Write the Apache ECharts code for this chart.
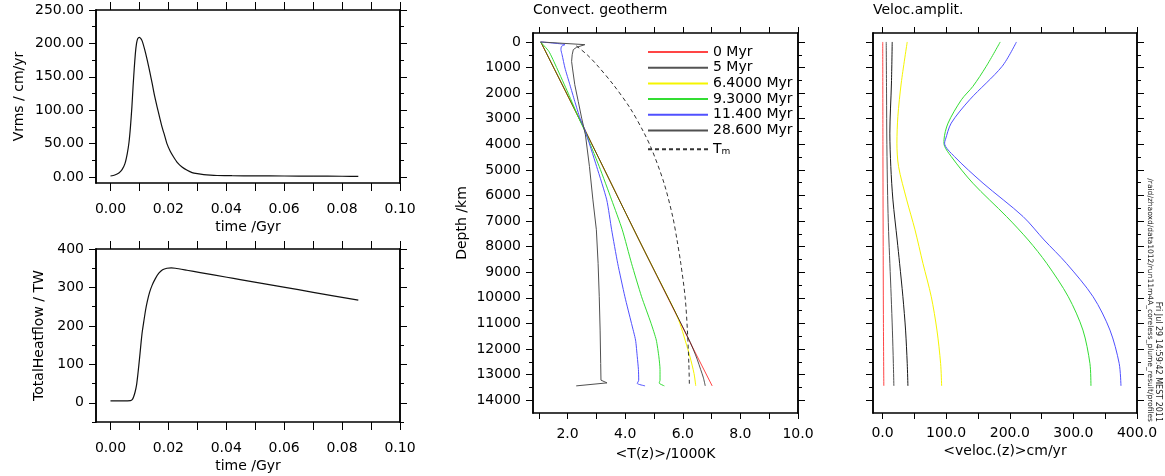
<!DOCTYPE html>
<html><head><meta charset="utf-8">
<script src="https://cdn.jsdelivr.net/npm/echarts@6/dist/echarts.min.js"></script>
<style>html,body{margin:0;padding:0;background:#fff}#c{width:1165px;height:476px}</style>
</head><body><div id="c"></div>
<script>
// ---------- Vrms vs time (top-left) ----------
const vrmsTime  = [0, 0.0015, 0.0029, 0.0040, 0.0050, 0.0058, 0.0064, 0.0069, 0.0074, 0.0078, 0.0082, 0.0086, 0.0090, 0.0094, 0.0100, 0.0105, 0.0110, 0.0118, 0.0127, 0.0136, 0.0144, 0.0152, 0.0161, 0.0170, 0.0178, 0.0187, 0.0195, 0.0206, 0.0218, 0.0232, 0.0247, 0.0265, 0.0282, 0.0300, 0.0322, 0.0345, 0.0368, 0.0420, 0.0500, 0.0600, 0.0700, 0.0800, 0.0856];
const vrmsValue = [1.5, 3, 6, 11, 20, 35, 52, 75, 105, 135, 162, 185, 200, 207, 209, 207, 203, 191, 175, 157, 140, 122, 105, 89, 75, 62, 50, 39, 30, 21, 15, 10, 6.6, 5, 3.6, 2.7, 2.2, 1.9, 1.7, 1.5, 1.3, 1.1, 1.0];

// ---------- Total heat flow vs time (bottom-left) ----------
const heatTime  = [0, 0.0040, 0.0069, 0.0075, 0.0080, 0.0085, 0.0090, 0.0094, 0.0098, 0.0102, 0.0106, 0.0110, 0.0115, 0.0121, 0.0127, 0.0135, 0.0144, 0.0155, 0.0167, 0.0180, 0.0195, 0.0210, 0.0224, 0.0264, 0.0310, 0.0402, 0.0448, 0.0598, 0.0700, 0.0856];
const heatValue = [5, 5, 5.5, 8, 15.6, 28, 46, 70, 98, 128, 159, 186, 211, 240, 263, 287, 306, 323, 337, 346, 350, 351, 350, 344.8, 338.7, 326.5, 320.5, 300.8, 287.4, 267];

// ---------- Convective geotherm (middle): temperature /1000K at depth km ----------
const geo0Depth   = [0, 3435, 7738, 12000, 13440];
const geo0Temp    = [1.07, 2.60, 4.48, 6.37, 7.02];
const geo5Depth   = [0, 3435, 7738, 11500, 12000, 12400, 12800, 13100, 13440];
const geo5Temp    = [1.07, 2.60, 4.48, 6.16, 6.36, 6.50, 6.62, 6.71, 6.78];
const geo64Depth  = [0, 3435, 7738, 10500, 11000, 11650, 12305, 12955, 13440];
const geo64Temp   = [1.07, 2.60, 4.48, 5.72, 5.90, 6.08, 6.25, 6.39, 6.45];
const geo93Depth  = [0, 367, 1000, 2000, 3000, 3435, 4870, 6172, 7340, 8650, 9956, 11000, 11650, 12305, 12800, 13217, 13330, 13440];
const geo93Temp   = [1.06, 1.35, 1.62, 2.02, 2.40, 2.58, 3.10, 3.53, 3.90, 4.22, 4.57, 4.90, 5.08, 5.17, 5.21, 5.21, 5.18, 5.36];
const geo114Depth = [0, 105, 170, 300, 500, 1020, 1670, 2320, 2975, 3435, 4870, 6172, 7340, 8650, 9956, 11000, 11650, 12305, 12800, 13217, 13346, 13440];
const geo114Temp  = [1.06, 1.91, 1.79, 1.77, 1.81, 1.91, 2.08, 2.25, 2.43, 2.60, 3.01, 3.36, 3.53, 3.74, 3.99, 4.22, 4.36, 4.42, 4.46, 4.47, 4.42, 4.69];
const geo286Depth = [0, 105, 210, 300, 500, 760, 1020, 1670, 2320, 2980, 3630, 4870, 6172, 7340, 8650, 9956, 11260, 12564, 13217, 13323, 13440];
const geo286Temp  = [1.06, 2.60, 2.31, 2.20, 2.16, 2.14, 2.17, 2.25, 2.37, 2.49, 2.62, 2.76, 2.88, 3.00, 3.06, 3.10, 3.13, 3.15, 3.16, 3.37, 2.30];
const tmDepth     = [150, 500, 888, 1671, 2583, 3499, 4215, 5520, 6825, 7738, 8650, 9956, 11260, 12564, 13440];
const tmTemp      = [2.30, 2.68, 3.01, 3.59, 4.17, 4.63, 4.93, 5.35, 5.65, 5.80, 5.93, 6.08, 6.16, 6.21, 6.23];

// ---------- Velocity amplitude (right): cm/yr at depth km ----------
const vel0Depth   = [0, 4000, 8000, 11000, 13440];
const vel0        = [0.3, 0.6, 1.0, 1.4, 2.0];
const vel5Depth   = [0, 1605, 3563, 4870, 6172, 7738, 8650, 9956, 11260, 12564, 13440];
const vel5        = [15.2, 14, 11.5, 13, 16.3, 23, 26.8, 32, 36.2, 38.8, 39.9];
const vel64Depth  = [0, 1605, 2911, 3955, 4870, 6172, 7340, 8650, 9956, 11260, 12564, 13440];
const vel64       = [38.8, 29.4, 24.1, 22.6, 25.2, 38, 51, 63.5, 76.6, 85.5, 91.3, 92.9];
const vel93Depth  = [0, 953, 1737, 2258, 3171, 3824, 3955, 4477, 5520, 6825, 7738, 8650, 9956, 11260, 12564, 13440];
const vel93       = [185, 163, 142, 124, 103, 96.6, 96.5, 108, 142, 195, 229, 258, 292, 315, 326, 327.6];
const vel114Depth = [0, 953, 2258, 3171, 3824, 3955, 4477, 5520, 6825, 7738, 8650, 9956, 11260, 12564, 13440];
const vel114      = [210.5, 188, 137, 108, 98.7, 97.5, 113, 158, 221, 254, 289, 331, 357.5, 372, 374.8];
const vel286Depth = [0, 2000, 4000, 6000, 7400, 8650, 9956, 11260, 12564, 13440];
const vel286      = [5.8, 6.3, 6.8, 8, 9.5, 11.5, 13.6, 15.5, 17, 17.8];

// ---------- Names and tick labels ----------
const runNames    = ['0 Myr', '5 Myr', '6.4000 Myr', '9.3000 Myr', '11.400 Myr', '28.600 Myr', 'Tm'];
const timeTicks   = [0, 0.01, 0.02, 0.03, 0.04, 0.05, 0.06, 0.07, 0.08, 0.09, 0.10];
const timeLabels  = [0, 0.02, 0.04, 0.06, 0.08, 0.10];
const vrmsLabels  = [0, 50, 100, 150, 200, 250];
const vrmsMinor   = [25, 75, 125, 175, 225];
const heatLabels  = [0, 100, 200, 300, 400];
const heatMinor   = [-50, 50, 150, 250, 350];
const depthLabels = [0, 1000, 2000, 3000, 4000, 5000, 6000, 7000, 8000, 9000, 10000, 11000, 12000, 13000, 14000];
const depthMinor  = [500, 1500, 2500, 3500, 4500, 5500, 6500, 7500, 8500, 9500, 10500, 11500, 12500, 13500];
const tempTicks   = [1, 2, 3, 4, 5, 6, 7, 8, 9, 10];
const tempLabels  = [2, 4, 6, 8, 10];
const velTicks    = [0, 50, 100, 150, 200, 250, 300, 350, 400];
const velLabels   = [0, 100, 200, 300, 400];

const BLACK = '#000';
const F = 'DejaVu Sans';
const colors = ['#ff4545', '#1a1a1a', '#f5f500', '#33dd33', '#5050ff', '#505050', '#333333'];

function baseAxis(grid, min, max, inverse) {
  return { type: 'value', gridIndex: grid, min: min, max: max, inverse: !!inverse,
    axisLine: { show: true, onZero: false, lineStyle: { color: BLACK, width: 1.5 } },
    splitLine: { show: false }, splitArea: { show: false }, nameMoveOverlap: false };
}
function tick(vals, len) {
  return { show: true, inside: false, length: len, customValues: vals, lineStyle: { color: BLACK, width: 1 } };
}
function lab(vals, fmt, margin) {
  return { show: true, customValues: vals, formatter: fmt, margin: margin, color: BLACK,
    fontFamily: F, fontSize: 14, showMinLabel: true, showMaxLabel: true };
}
function xPair(grid, min, max, ticks, labels, fmt, name, margin, nameGap, len) {
  const b = baseAxis(grid, min, max);
  Object.assign(b, { position: 'bottom', name: name, nameLocation: 'middle', nameGap: nameGap,
    nameTextStyle: { color: BLACK, fontFamily: F, fontSize: 14 },
    axisTick: tick(ticks, len), axisLabel: lab(labels, fmt, margin) });
  const t = baseAxis(grid, min, max);
  Object.assign(t, { position: 'top', axisTick: tick(ticks, len), axisLabel: { show: false } });
  return [b, t];
}
function yQuad(grid, min, max, major, minor, fmt, showLabels, name, nameGap, inverse) {
  const mk = (pos, vals, len, withLab) => {
    const a = baseAxis(grid, min, max, inverse);
    Object.assign(a, { position: pos, axisTick: tick(vals, len),
      axisLabel: withLab ? lab(major, fmt, 12) : { show: false } });
    return a;
  };
  const l = mk('left', major, 7, showLabels);
  if (name) Object.assign(l, { name: name, nameLocation: 'middle', nameGap: nameGap, nameRotate: 90,
    nameTextStyle: { color: BLACK, fontFamily: F, fontSize: 14 } });
  return [l, mk('left', minor, 4, false), mk('right', major, 7, false), mk('right', minor, 4, false)];
}
const f2 = v => v.toFixed(2), f0 = v => String(Math.round(v)), f1 = v => v.toFixed(1);

const xAxis = [].concat(
  xPair(0, -0.005, 0.1, timeTicks, timeLabels, f2, 'time /Gyr', 19, 37, 8),
  xPair(1, -0.005, 0.1, timeTicks, timeLabels, f2, 'time /Gyr', 19, 37, 8),
  xPair(2, 0.8, 10, tempTicks, tempLabels, f1, '<T(z)>/1000K', 14, 34, 6),
  xPair(3, -15, 400, velTicks, velLabels, f1, '<veloc.(z)>cm/yr', 13, 31, 6)
);
const yAxis = [].concat(
  yQuad(0, -9, 250, vrmsLabels, vrmsMinor, f2, true, 'Vrms / cm/yr', 70, false),
  yQuad(1, -50, 400, heatLabels, heatMinor, f0, true, 'TotalHeatflow / TW', 50, false),
  yQuad(2, -350, 14500, depthLabels, depthMinor, f0, true, 'Depth /km', 64, true),
  yQuad(3, -350, 14500, depthLabels, depthMinor, f0, false, null, 0, true)
);

function pts(xs, ys) { return xs.map((x, i) => [x, ys[i]]); }
function line(name, data, xi, yi, color, extra) {
  return Object.assign({ type: 'line', name: name, data: data, xAxisIndex: xi, yAxisIndex: yi,
    symbol: 'none', showSymbol: false, silent: true, animation: false,
    lineStyle: { color: color, width: 1 }, itemStyle: { color: color },
    emphasis: { disabled: true } }, extra || {});
}

const series = [
  line('Vrms', pts(vrmsTime, vrmsValue), 0, 0, '#111', { smooth: 0.2, lineStyle: { color: '#111', width: 1.2 } }),
  line('Heatflow', pts(heatTime, heatValue), 2, 4, '#111', { smooth: 0.2, lineStyle: { color: '#111', width: 1.2 } }),
  // geotherms
  line(runNames[0], pts(geo0Temp, geo0Depth), 4, 8, colors[0]),
  line(runNames[2], pts(geo64Temp, geo64Depth), 4, 8, colors[2], { smooth: 0.3 }),
  line(runNames[1], pts(geo5Temp, geo5Depth), 4, 8, colors[1], { smooth: 0.3, lineStyle: { color: colors[1], width: 1, opacity: 0.75 } }),
  line(runNames[3], pts(geo93Temp, geo93Depth), 4, 8, colors[3], { smooth: 0.2 }),
  line(runNames[4], pts(geo114Temp, geo114Depth), 4, 8, colors[4], { smooth: 0.2 }),
  line(runNames[5], pts(geo286Temp, geo286Depth), 4, 8, colors[5]),
  line(runNames[6], pts(tmTemp, tmDepth), 4, 8, colors[6], { smooth: 0.3, lineStyle: { color: colors[6], width: 1, type: [4, 3] } }),
  // velocities
  line(runNames[0], pts(vel0, vel0Depth), 6, 12, colors[0], { smooth: 0.3 }),
  line(runNames[1], pts(vel5, vel5Depth), 6, 12, colors[1], { smooth: 0.3 }),
  line(runNames[2], pts(vel64, vel64Depth), 6, 12, colors[2], { smooth: 0.3 }),
  line(runNames[3], pts(vel93, vel93Depth), 6, 12, colors[3], { smooth: 0.3 }),
  line(runNames[4], pts(vel114, vel114Depth), 6, 12, colors[4], { smooth: 0.3 }),
  line(runNames[5], pts(vel286, vel286Depth), 6, 12, colors[5], { smooth: 0.3 })
];

const option = {
  backgroundColor: '#fff',
  animation: false,
  title: [
    { text: 'Convect. geotherm', left: 533, top: 3, padding: 0,
      textStyle: { fontFamily: F, fontSize: 14, fontWeight: 'normal', color: BLACK } },
    { text: 'Veloc.amplit.', left: 873, top: 3, padding: 0,
      textStyle: { fontFamily: F, fontSize: 14, fontWeight: 'normal', color: BLACK } }
  ],
  grid: [
    { left: 96, top: 10, width: 304, height: 173, containLabel: false, outerBoundsMode: 'none' },
    { left: 96, top: 249, width: 304, height: 173, containLabel: false, outerBoundsMode: 'none' },
    { left: 533, top: 33, width: 265, height: 380, containLabel: false, outerBoundsMode: 'none' },
    { left: 873, top: 33, width: 264, height: 380, containLabel: false, outerBoundsMode: 'none' }
  ],
  legend: {
    data: runNames, orient: 'vertical', left: 647, top: 45, padding: 0,
    itemWidth: 60, itemHeight: 14, itemGap: 1.7, selectedMode: false,
    itemStyle: { opacity: 0 },
    formatter: n => n === 'Tm' ? '{t|T}{s|m}' : n,
    textStyle: { fontFamily: F, fontSize: 14, color: BLACK, lineHeight: 14,
      rich: { t: { fontFamily: F, fontSize: 14, lineHeight: 14, verticalAlign: 'top', color: BLACK },
              s: { fontFamily: F, fontSize: 9, lineHeight: 9, verticalAlign: 'bottom', padding: [8, 0, 0, 0], color: BLACK } } }
  },
  xAxis: xAxis,
  yAxis: yAxis,
  series: series,
  graphic: [
    { type: 'text', x: 1158, y: 422, rotation: -Math.PI / 2,
      style: { text: 'Fri Jul 29 14:59:42 MEST 2011', fontFamily: F, fontSize: 8, fill: '#222', align: 'right', verticalAlign: 'middle' } },
    { type: 'text', x: 1150, y: 422, rotation: -Math.PI / 2,
      style: { text: '/raid/zhaoxd/data1012/run11m4A_coreless_plume_result/profiles', fontFamily: F, fontSize: 7.5, fill: '#222', align: 'right', verticalAlign: 'middle' } }
  ]
};
const chart = echarts.init(document.getElementById('c'), null, { renderer: 'canvas' });
chart.setOption(option);
</script>
</body></html>
